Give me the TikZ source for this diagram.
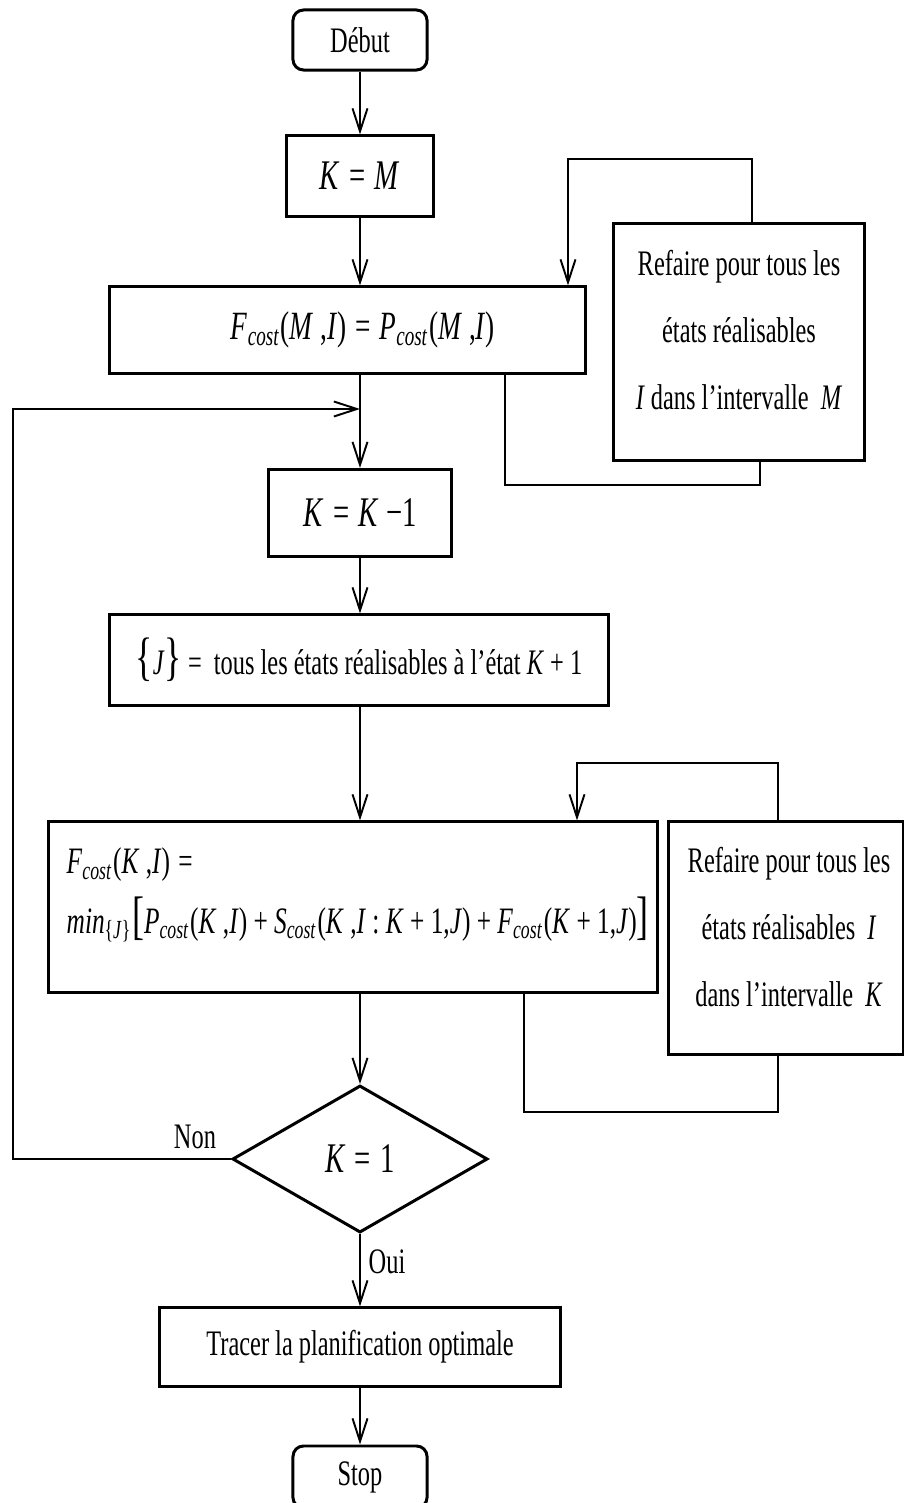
\documentclass[tikz,border=0pt]{standalone}
\usepackage{fontspec}
\setmainfont[FakeStretch=0.68]{Liberation Serif}
\usetikzlibrary{arrows.meta,shapes.geometric}
\newcommand{\itx}[1]{\textit{#1}}
\newcommand{\csub}{\textsubscript{\textit{cost}}}
\newcommand{\bigbrk}[1]{{\fontsize{15}{15}\selectfont #1}}
\newcommand{\meq}{\hspace{0.22em}=\hspace{0.22em}}

\begin{document}
\begin{tikzpicture}[x=0.01cm,y=-0.01cm,
  every node/.style={font=\fontsize{10.2}{19}\selectfont},
  mathtxt/.style={font=\fontsize{12}{14}\selectfont},
  box/.style={draw, line width=0.85pt, rectangle, inner sep=0pt},
  term/.style={box, rounded corners=3pt},
  link/.style={line width=0.55pt},
  flow/.style={link, -{Straight Barb[length=2.3mm,width=1.5mm]}},
  lbl/.style={inner sep=0pt, align=center}]

\useasboundingbox (0,0) rectangle (904,1503);
\clip (0,0) rectangle (904,1503);

% main column
\coordinate (ax) at (360,0);
\node[term, minimum width=1.34cm, minimum height=0.60cm] (debut) at (360,40) {Début};
\node[box, mathtxt, minimum width=1.46cm, minimum height=0.80cm] (km) at (360,176) {\itx{K}\meq\itx{M}};
\node[box, minimum width=4.75cm, minimum height=0.86cm] (fm) at (347.5,330) {};
\node[lbl, font=\fontsize{11.4}{14}\selectfont] (fmt) at (363,330)
  {\itx{F}\csub(\itx{M} ,\itx{I})\meq\itx{P}\csub(\itx{M} ,\itx{I})};
\node[box, mathtxt, minimum width=1.82cm, minimum height=0.87cm] (kk) at (360,513) {\itx{K}\meq\itx{K} −1};
\node[box, minimum width=4.98cm, minimum height=0.90cm] (jb) at (359,660)
  {\bigbrk{\{}\itx{J}\bigbrk{\}} = \,tous les états réalisables à l’état \itx{K} + 1};
\node[box, minimum width=6.08cm, minimum height=1.70cm] (f2) at (353,907) {};
\node[lbl, align=left, anchor=west, font=\fontsize{10.6}{17}\selectfont] (f2t) at (66,895)
  {\itx{F}\csub(\itx{K} ,\itx{I})\meq\\
   \itx{min}\textsubscript{\{\itx{J}\}}\bigbrk{[}\itx{P}\csub(\itx{K} ,\itx{I}) + \itx{S}\csub(\itx{K} ,\itx{I} : \itx{K} + 1,\itx{J}) + \itx{F}\csub(\itx{K} + 1,\itx{J})\bigbrk{]}};
\node[draw, diamond, mathtxt, line width=0.85pt, inner sep=0pt, minimum width=2.55cm, minimum height=1.47cm] (dia) at (360,1159) {\itx{K}\meq1};
\node[box, minimum width=4.00cm, minimum height=0.78cm] (tr) at (360,1347) {Tracer la planification optimale};
\node[term, minimum width=1.34cm, minimum height=0.62cm] (stop) at (360,1477) {Stop};

% side boxes
\node[box, minimum width=2.50cm, minimum height=2.36cm] (r1) at (739,342) {};
\node[lbl] (r1t) at (739,330) {Refaire pour tous les\\ états réalisables\\ \itx{I} dans l’intervalle \,\itx{M}};
\node[box, minimum width=2.34cm, minimum height=2.32cm] (r2) at (786,938) {};
\node[lbl] (r2t) at (789,927) {Refaire pour tous les\\ états réalisables \,\itx{I}\\ dans l’intervalle \,\itx{K}};

% labels
\node[lbl] (non) at (195,1137) {Non};
\node[lbl] (oui) at (387,1262) {Oui};

% main flow
\draw[flow] (debut) -- (km);
\draw[flow] (km) -- (ax |- fm.north);
\draw[flow] (ax |- fm.south) -- (kk.north);
\draw[flow] (kk) -- (ax |- jb.north);
\draw[flow] (ax |- jb.south) -- (ax |- f2.north);
\draw[flow] (ax |- f2.south) -- (dia.north);
\draw[flow] (dia.south) -- (tr.north);
\draw[flow] (tr) -- (stop);

% return path when K is not 1
\coordinate (join) at (360,409);
\draw[flow] (dia.west) -- (13,0 |- dia.west) -- (13,409) -- (join);

% loop over the states of interval M
\draw[flow] (752,0 |- r1.north) |- (568,159) -- (568,0 |- fm.north);
\draw[link] (505,0 |- fm.south) |- (760,485) -- (760,0 |- r1.south);

% loop over the states of interval K
\draw[flow] (778,0 |- r2.north) |- (577,763) -- (577,0 |- f2.north);
\draw[link] (524,0 |- f2.south) |- (778,1112) -- (778,0 |- r2.south);
\end{tikzpicture}
\end{document}
